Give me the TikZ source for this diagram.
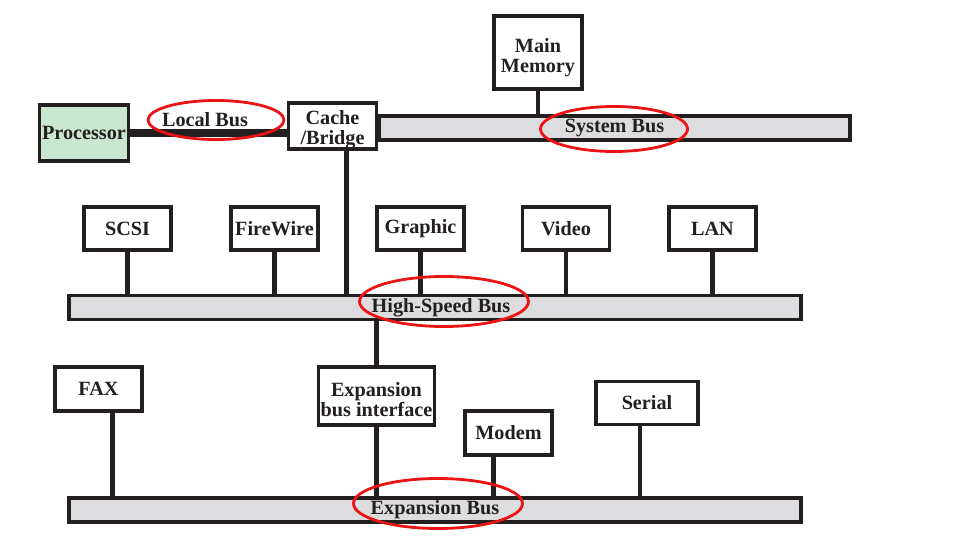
\documentclass[tikz,border=0pt]{standalone}
\usepackage{fontspec}
\setmainfont{Liberation Serif}
\usepackage{tikz}
\usetikzlibrary{positioning, shapes.geometric}
\definecolor{inkdark}{RGB}{35, 31, 32}
\definecolor{busgray}{RGB}{221, 221, 224}
\definecolor{cpugreen}{RGB}{201, 231, 207}
\definecolor{markred}{RGB}{235, 20, 20}
\newcommand{\unitfont}{\fontsize{11.5}{11.5}\selectfont\bfseries\color{inkdark}}
\newcommand{\lowtop}[1]{\rule{0pt}{#1}}
\tikzset{
  unit/.style={
    draw=inkdark,
    line width=2.2pt,
    fill=white,
    minimum width=1.74cm,
    minimum height=0.86cm,
    inner sep=0pt,
    align=center,
    font=\unitfont
  },
  bus/.style={
    draw=inkdark,
    line width=2.2pt,
    fill=busgray,
    minimum height=0.48cm,
    inner sep=0pt,
    font=\unitfont
  },
  wire/.style={
    draw=inkdark,
    line width=2.4pt
  },
  localwire/.style={
    draw=inkdark,
    line width=5.1pt
  },
  busmark/.style={
    ellipse,
    draw=markred,
    line width=1.6pt,
    inner sep=0pt
  }
}

\begin{document}
\begin{tikzpicture}[x=0.02cm, y=-0.02cm]
  \useasboundingbox (0,0) rectangle (970,541);

  % processor, cache and memory
  \node[unit, fill=cpugreen, minimum width=1.78cm, minimum height=1.12cm] (cpu) at (84,133) {Processor};
  \node[unit, minimum width=1.76cm] (cache) at (332.5,126) {\lowtop{12pt}Cache\\/Bridge};
  \node[unit, minimum width=1.76cm, minimum height=1.46cm] (mem) at (538,52.5) {\lowtop{13.5pt}Main\\Memory};

  % buses
  \node[bus, minimum width=9.42cm] (sysbus) at (614.5,128) {System Bus};
  \node[bus, minimum width=14.64cm] (hsbus) at (435,307.5) {\hspace{0.24cm}High-Speed Bus};
  \node[bus, minimum width=14.64cm] (expbus) at (435,510) {Expansion Bus};

  % high-speed devices
  \node[unit] (scsi) at (127.5,228.5) {SCSI};
  \node[unit] (firewire) at (274.5,228.5) {FireWire};
  \node[unit] (graphic) at (420.5,228.5) {Graphic};
  \node[unit] (video) at (566,228.5) {Video};
  \node[unit] (lan) at (712.5,228.5) {LAN};

  % expansion devices
  \node[unit, minimum height=0.88cm] (fax) at (98.5,389) {FAX};
  \node[unit, minimum width=2.32cm, minimum height=1.16cm] (ebi) at (376.5,396) {\lowtop{12pt}Expansion\\bus interface};
  \node[unit, minimum height=0.88cm] (modem) at (508.5,433) {Modem};
  \node[unit, minimum width=2.04cm] (serial) at (647,403) {Serial};

  % connectors
  \draw[localwire] (cpu.east) -- (cpu.east -| cache.west);
  \node[font=\unitfont] (lbtext) at (205,120) {Local Bus};
  \draw[wire] (mem.south) -- (mem.south |- sysbus.north);
  \draw[wire] ([xshift=0.28cm]cache.south) -- ([xshift=0.28cm]cache.south |- hsbus.north);
  \foreach \dev in {scsi, firewire, graphic, video, lan}
    \draw[wire] (\dev.south) -- (\dev.south |- hsbus.north);
  \draw[wire] (ebi.north) -- (ebi.north |- hsbus.south);
  \draw[wire] (ebi.south) -- (ebi.south |- expbus.north);
  \draw[wire] ([xshift=0.28cm]fax.south) -- ([xshift=0.28cm]fax.south |- expbus.north);
  \draw[wire] ([xshift=-0.30cm]modem.south) -- ([xshift=-0.30cm]modem.south |- expbus.north);
  \draw[wire] ([xshift=-0.14cm]serial.south) -- ([xshift=-0.14cm]serial.south |- expbus.north);

  % red marks
  \node[busmark, minimum width=2.72cm, minimum height=0.78cm] (lbmark) at (216,120) {};
  \node[busmark, minimum width=2.94cm, minimum height=0.9cm] (sysmark) at (614,129) {};
  \node[busmark, minimum width=3.38cm, minimum height=1.0cm] (hsmark) at (444,301.5) {};
  \node[busmark, minimum width=3.38cm, minimum height=1.0cm] (expmark) at (438,503.5) {};
\end{tikzpicture}
\end{document}
